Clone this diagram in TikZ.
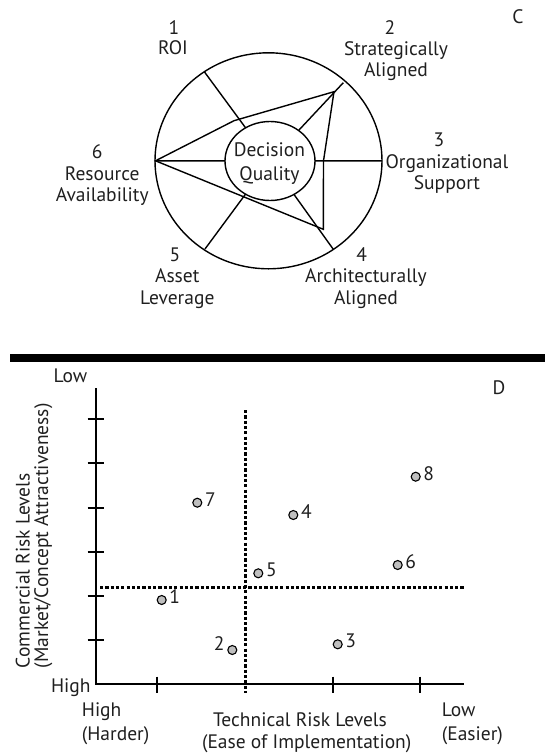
\documentclass[tikz,border=0pt]{standalone}
\usepackage{fontspec}
\setmainfont{PT Sans}
\usetikzlibrary{shapes.geometric}
\begin{document}
\begin{tikzpicture}[x=1pt,y=-1pt,
  txt/.style={font=\fontsize{19.5}{21.5}\selectfont, inner sep=0pt, text=black!88},
  twoline/.style={txt, align=center},
  web/.style={line width=1.4pt, line join=miter},
  axis/.style={line width=2.1pt},
  tick/.style={line width=2pt},
  grid dots/.style={line width=3pt, dash pattern=on 3.2pt off 2.1pt},
  dot/.style={circle, draw, line width=1.1pt, fill=black!25, minimum size=9pt, inner sep=0pt}]
\useasboundingbox (0,0) rectangle (545,756);

% ---------- panel C ----------
\coordinate (ctr) at (270,161);
\coordinate (o1) at (204.3,71.7);
\coordinate (o2) at (343.3,82.7);
\coordinate (o3) at (382,160.8);
\coordinate (o4) at (333.3,249.3);
\coordinate (o5) at (205,249);
\coordinate (o6) at (155,160.8);
\foreach \i in {1,...,6} \draw[web] (o\i) -- (ctr);
\node[draw, web, fill=white, ellipse, minimum width=90pt, minimum height=79pt, inner sep=0pt] (dq) at (ctr) {};
\node[twoline, font=\fontsize{19.5}{23.3}\selectfont] (dqt) at (269.5,163.7) {\strut Decision\\Quality\strut};
\coordinate (p6) at (155.5,160.8);
\coordinate (p1) at (234,120.7);
\coordinate (p2) at (334,91.7);
\coordinate (p3) at (323.5,160.8);
\coordinate (p4) at (323.3,229.3);
\draw[web] (p6) -- (p1) -- (p2) -- (p3) -- (p4) -- cycle;
\draw[web] (268.5,160.8) ellipse [x radius=113.5, y radius=108];

\node[txt, anchor=base] (n1) at (174,34) {1};
\node[txt, anchor=base] (t1) at (173,54.3) {ROI};
\node[txt, anchor=base] (n2) at (390,34) {2};
\node[twoline] (t2) at (396,61.45) {\strut Strategically\\Aligned\strut};
\node[txt, anchor=base] (n3) at (439,146.6) {3};
\node[twoline] (t3) at (447,174.45) {\strut Organizational\\Support\strut};
\node[txt, anchor=base] (n4) at (361.7,261) {4};
\node[twoline] (t4) at (366,288.95) {\strut Architecturally\\Aligned\strut};
\node[txt, anchor=base] (n5) at (175,261) {5};
\node[twoline] (t5) at (177.3,288.95) {\strut Asset\\Leverage\strut};
\node[txt, anchor=base] (n6) at (97.2,158.8) {6};
\node[twoline] (t6) at (102.2,186.75) {\strut Resource\\Availability\strut};
\node[txt, anchor=base] (pc) at (518,23) {C};

% ---------- divider ----------
\fill[black] (10,354) rectangle (545,361.7);

% ---------- panel D ----------
\coordinate (org) at (96,684);
\coordinate (ytop) at (96,388);
\coordinate (xend) at (464,684);
\draw[axis] (ytop) -- (org) -- (xend);
\foreach \y in {419,463.3,507.7,552,596,640} \draw[tick] (87.7,\y) -- (104.3,\y);
\foreach \x in {156.7,332.7,420} \draw[tick] (\x,676.7) -- (\x,692.7);
\coordinate (vt) at (245,410);
\coordinate (vb) at (245,692.7);
\coordinate (hl) at (100,587);
\coordinate (hr) at (464,587);
\draw[grid dots] (vt) -- (vb);
\draw[grid dots] (hl) -- (hr);

\node[dot] (d1) at (161.7,600) {};
\node[dot] (d2) at (232.3,650) {};
\node[dot] (d3) at (337.7,644.3) {};
\node[dot] (d4) at (293.3,515) {};
\node[dot] (d5) at (258.3,573.3) {};
\node[dot] (d6) at (397.7,565) {};
\node[dot] (d7) at (197.3,502.7) {};
\node[dot] (d8) at (415.7,476.7) {};
\foreach \i in {1,3,4,5,6,7,8}
  \node[txt, anchor=west] (l\i) at ([xshift=2.5pt,yshift=3.3pt]d\i.east) {\i};
\node[txt, anchor=east] (l2) at ([xshift=-2.5pt,yshift=6.7pt]d2.west) {2};

\node[txt, anchor=base] (ylow) at (70.5,382.7) {Low};
\node[txt, anchor=base east] (yhigh) at (90.7,692.7) {High};
\node[txt, anchor=base] (pd) at (499,394) {D};
\node[txt, anchor=base west] (xh1) at (81.7,716.7) {High};
\node[txt, anchor=base west] (xh2) at (81.7,740) {(Harder)};
\node[txt, anchor=base west] (xl1) at (441.7,716.7) {Low};
\node[txt, anchor=base west] (xl2) at (441.7,740) {(Easier)};
\node[txt, anchor=base] (xt1) at (300,726.7) {Technical Risk Levels};
\node[txt, anchor=base] (xt2) at (306.7,748.3) {(Ease of Implementation)};
\node[txt, anchor=base west, rotate=90] (yt1) at (29.5,668.3) {Commercial Risk Levels};
\node[txt, anchor=base west, rotate=90] (yt2) at (48,668.3) {(Market/Concept Attractiveness)};
\end{tikzpicture}
\end{document}
